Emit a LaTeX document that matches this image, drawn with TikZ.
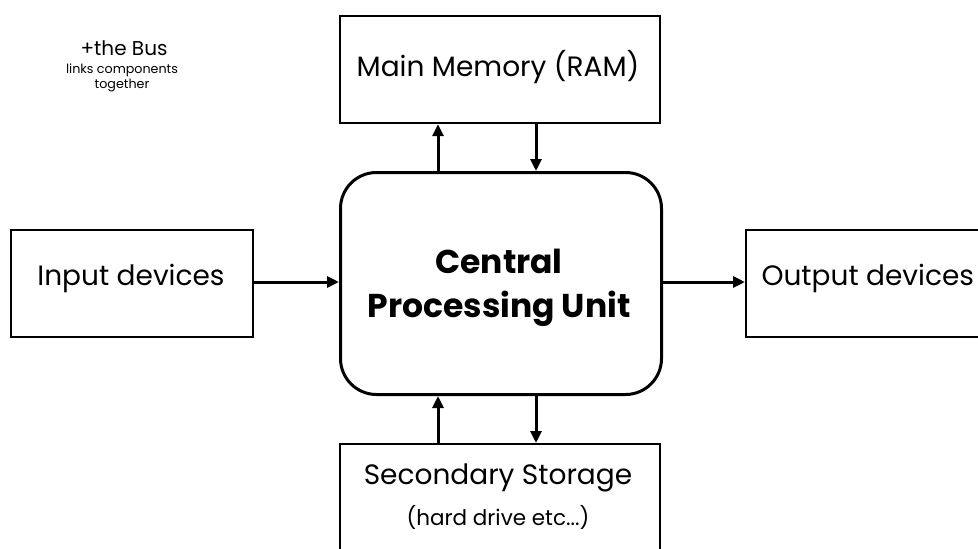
\documentclass[tikz,border=0pt]{standalone}
\usepackage{fontspec}
\setmainfont{Poppins}
\usetikzlibrary{arrows.meta}
\begin{document}
\begin{tikzpicture}[x=1pt,y=-1pt,
  box/.style={draw=black,line width=2.2pt,fill=white,inner sep=0pt,anchor=north west},
  cpubox/.style={draw=black,line width=3pt,rounded corners=36pt,inner sep=0pt,anchor=north west},
  link/.style={line width=3pt,-{Triangle[length=12pt,width=11pt]}},
  lbl/.style={font=\fontsize{28}{32}\selectfont,text=black}]
\useasboundingbox (0,0) rectangle (978,549);
\clip (0,0) rectangle (978,549);
% boxes
\node[box,minimum width=320pt,minimum height=107pt] (ram) at (339,15) {};
\node[cpubox,minimum width=321pt,minimum height=222pt] (cpu) at (339,171) {};
\node[box,minimum width=242pt,minimum height=107pt] (in) at (10,229) {};
\node[box,minimum width=250pt,minimum height=107pt] (out) at (745,229) {};
\node[box,minimum width=320pt,minimum height=130pt] (sto) at (339,443) {};
% texts
\node[lbl] (ramt) at (498,67) {Main Memory (RAM)};
\node[font=\fontsize{33}{44}\selectfont\bfseries,align=center] (cput) at (499,288) {Central\\Processing Unit};
\node[lbl] (int) at (131,278) {Input devices};
\node[lbl,anchor=west] (outt) at (758,278) {Output devices};
\node[lbl] (stot) at (498,478) {Secondary Storage};
\node[font=\fontsize{21.5}{26}\selectfont] (stot2) at (498,517) {(hard drive etc...)};
\node[font=\fontsize{20}{24}\selectfont] (bus) at (124,48) {+the Bus};
\node[font=\fontsize{12.7}{15}\selectfont,align=center] (busd) at (122,78) {links components\\together};
% connectors
\draw[link] (cpu.north west) ++(99,0) coordinate (c1) -- (c1 |- ram.south);
\draw[link] (ram.south west) ++(197,0) coordinate (c2) -- (c2 |- cpu.north);
\draw[link] (sto.north west) ++(99,0) coordinate (c3) -- (c3 |- cpu.south);
\draw[link] (cpu.south west) ++(197,0) coordinate (c4) -- (c4 |- sto.north);
\draw[link] (in.east |- 0,282) coordinate (c5) -- (c5 -| cpu.west);
\draw[link] (cpu.east |- 0,282) coordinate (c6) -- (c6 -| out.west);
\end{tikzpicture}
\end{document}
